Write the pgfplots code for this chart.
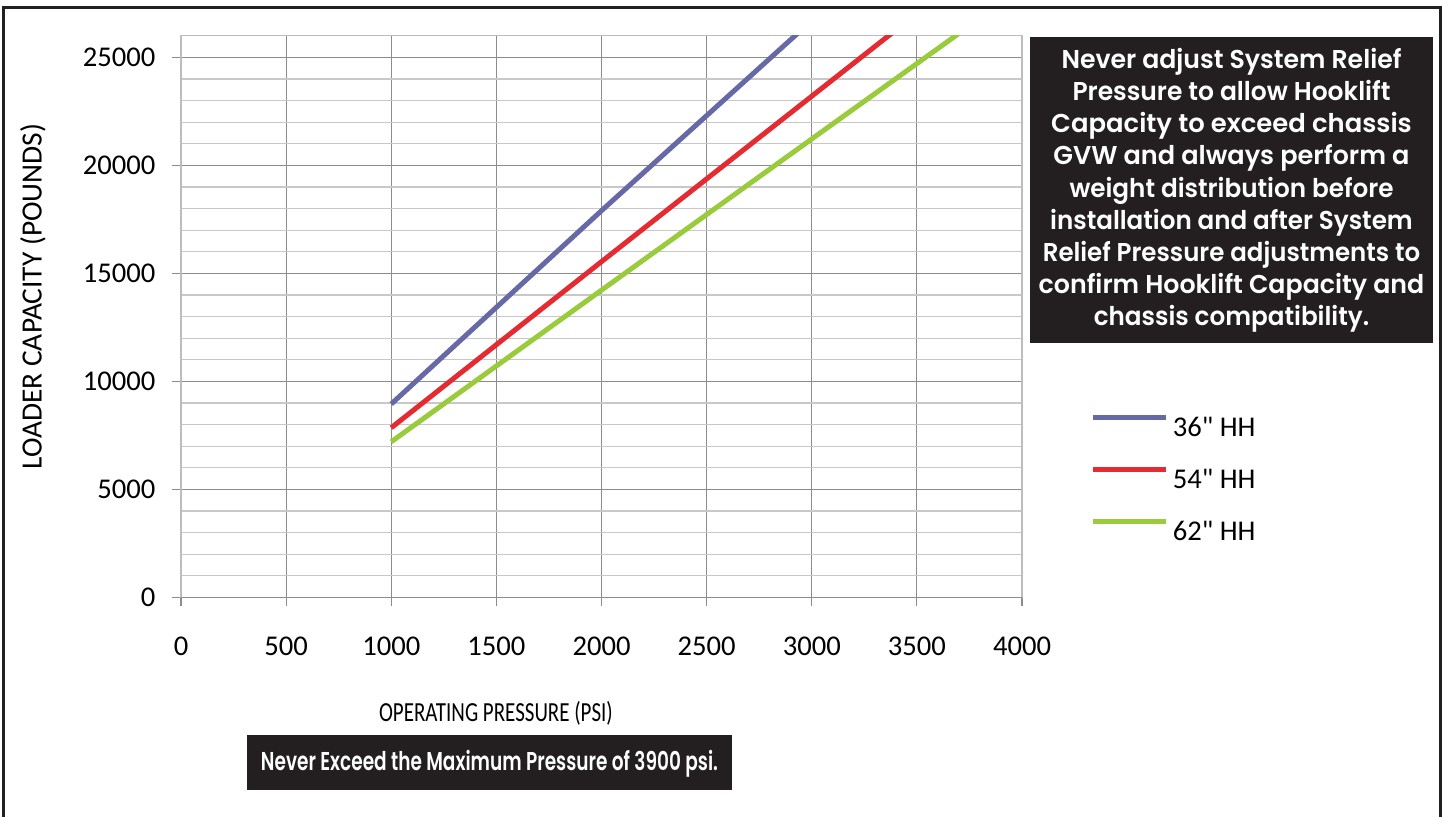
\documentclass[border=0pt]{standalone}
\usepackage{fontspec}
\setmainfont{Carlito}
\newfontfamily\carl{Carlito}
\newfontfamily\boxfont{Poppins}[BoldFont={* SemiBold}]
\usepackage{graphicx}
\usepackage{pgfplots}
\pgfplotsset{compat=1.18}
\definecolor{cblue}{HTML}{6769A6}
\definecolor{cred}{HTML}{E32B31}
\definecolor{cgreen}{HTML}{9ACB3C}
\definecolor{boxbg}{HTML}{231F20}
\definecolor{majgrid}{HTML}{8C8C8C}
\definecolor{mingrid}{HTML}{C8C8C8}
\definecolor{framegray}{HTML}{BDBDBD}
\newcommand{\tickfont}{\fontsize{14.3}{16}\selectfont}
\newcommand{\bx}{\boxfont\bfseries\fontsize{12.9}{15}\selectfont}
\begin{document}
\begin{tikzpicture}
\useasboundingbox (0pt,0pt) rectangle (721pt,-408pt);
\begin{axis}[
  at={(90.5pt,-298.65pt)}, anchor=south west,
  scale only axis, width=420.5pt, height=280.8pt,
  xmin=0, xmax=4000, ymin=0, ymax=26000,
  xtick={0,500,...,4000}, ytick={0,5000,...,25000},
  minor ytick={1000,2000,3000,4000,6000,7000,8000,9000,11000,12000,13000,14000,16000,17000,18000,19000,21000,22000,23000,24000,26000},
  grid=both,
  major grid style={majgrid, line width=0.6pt},
  minor grid style={mingrid, line width=0.6pt},
  axis line style={framegray, line width=0.6pt},
  tick align=outside, major tick length=4.5pt, minor tick length=0pt,
  tick style={majgrid, line width=0.6pt},
  xtick pos=left, ytick pos=left,
  scaled ticks=false,
  /pgf/number format/.cd, 1000 sep={}, assume math mode=true, /pgfplots/.cd,
  tick label style={font=\tickfont, inner sep=0pt},
  xticklabel style={anchor=north, yshift=-15.2pt},
  yticklabel style={anchor=east, xshift=-8.15pt},
  xlabel={\scalebox{0.76}[1]{OPERATING PRESSURE (PSI)}},
  xlabel style={at={(axis description cs:0.3745,-0.2215)}, anchor=base, font=\fontsize{13.8}{15}\selectfont, inner sep=0pt},
  ylabel={LOADER CAPACITY (POUNDS)},
  ylabel style={at={(axis description cs:-0.176,0.5353)}, anchor=center, font=\fontsize{14.7}{16}\selectfont, inner sep=0pt},
  legend cell align=left,
  legend style={at={(1.082,0.3246)}, anchor=north west, draw=none, fill=none,
    inner sep=0pt, outer sep=0pt, row sep=12.25pt, column sep=2pt, font=\carl\tickfont,
    nodes={inner sep=0pt, outer sep=0pt, text height=10pt, text depth=3pt}},
  legend image code/.code={\draw[#1, line width=2.5pt, line cap=butt] (0pt,6pt) -- (36.5pt,6pt);},
]
\addplot[cblue, line width=2.5pt] coordinates {(1000,8950) (2000,17900) (3000,26700)};
\addlegendentry{36" HH}
\addplot[cred, line width=2.5pt] coordinates {(1000,7850) (2000,15540) (3000,23200) (4000,30860)};
\addlegendentry{54" HH}
\addplot[cgreen, line width=2.5pt] coordinates {(1000,7200) (2000,14220) (3000,21220) (4000,28200)};
\addlegendentry{62" HH}
\draw[majgrid, line width=0.7pt] (axis cs:0,0) -- (axis cs:4000,0);
\end{axis}
% frame
\draw[boxbg, line width=1.2pt] (1.8pt,-420pt) -- (1.8pt,-3.75pt) -- (720.2pt,-3.75pt) -- (720.2pt,-420pt);
% right note box
\fill[boxbg] (515pt,-18.5pt) rectangle (716.5pt,-171.5pt);
\begin{scope}[every node/.style={anchor=base, text=white, inner sep=0pt}]
\node at (615.75pt,-34.15pt) {\bx\resizebox{170pt}{\height}{Never adjust System Relief}};
\node at (615.75pt,-50.25pt) {\bx\resizebox{159pt}{\height}{Pressure to allow Hooklift}};
\node at (615.75pt,-66.35pt) {\bx\resizebox{180.3pt}{\height}{Capacity to exceed chassis}};
\node at (615.75pt,-82.45pt) {\bx\resizebox{178pt}{\height}{GVW and always perform a}};
\node at (615.75pt,-98.55pt) {\bx\resizebox{162pt}{\height}{weight distribution before}};
\node at (615.75pt,-114.65pt) {\bx\resizebox{181.3pt}{\height}{installation and after System}};
\node at (615.75pt,-130.75pt) {\bx\resizebox{188.7pt}{\height}{Relief Pressure adjustments to}};
\node at (615.75pt,-146.85pt) {\bx\resizebox{192.8pt}{\height}{confirm Hooklift Capacity and}};
\node at (615.75pt,-162.95pt) {\bx\resizebox{137.7pt}{\height}{chassis compatibility.}};
\end{scope}
% bottom note box
\fill[boxbg] (123.5pt,-367.5pt) rectangle (366pt,-395pt);
\node[anchor=base, text=white, inner sep=0pt] at (244.75pt,-385pt) {\bx\resizebox{228.5pt}{\height}{Never Exceed the Maximum Pressure of 3900 psi.}};
\end{tikzpicture}
\end{document}
